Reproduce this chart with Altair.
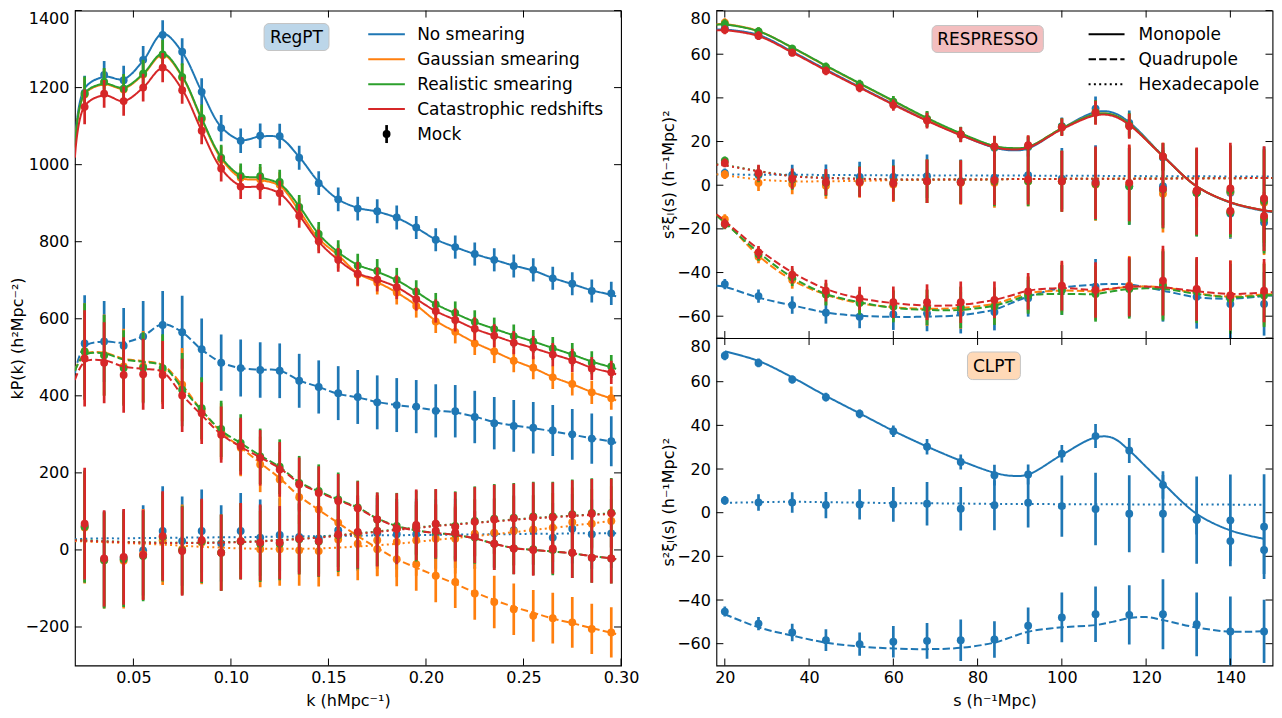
import altair as alt
import pandas as pd

FONT = "DejaVu Sans"
NAMES = ["No smearing", "Gaussian smearing", "Realistic smearing", "Catastrophic redshifts"]
COLORS = ["#1f77b4", "#ff7f0e", "#2ca02c", "#d62728"]
POLES = ["Monopole", "Quadrupole", "Hexadecapole"]
DASHES = [[1, 0], [7.4, 3.2], [2, 3.3]]

# ---------------- Left panel (RegPT, k P_l(k)) ----------------
K_MOCK = [0.025, 0.035, 0.045, 0.055, 0.065, 0.075, 0.085, 0.095, 0.105, 0.115, 0.125, 0.135, 0.145, 0.155,
          0.165, 0.175, 0.185, 0.195, 0.205, 0.215, 0.225, 0.235, 0.245, 0.255, 0.265, 0.275, 0.285, 0.295]
K_MODEL = [0.02] + K_MOCK + [0.2975]

P0_MOCK = {
    "No smearing": [1186, 1233, 1219, 1272, 1337, 1293, 1189, 1095, 1062, 1075, 1074, 1018, 952, 910,
                    886, 879, 863, 837, 805, 786, 768, 753, 737, 727, 705, 691, 672, 666],
    "Gaussian smearing": [1182, 1213, 1195, 1234, 1284, 1226, 1118, 1014, 966, 962, 948, 882, 808, 762,
                          715, 694, 668, 633, 593, 566, 536, 515, 491, 473, 448, 431, 409, 394],
    "Realistic smearing": [1184, 1215, 1197, 1236, 1286, 1228, 1121, 1018, 971, 970, 955, 890, 820, 773,
                           738, 724, 701, 670, 637, 615, 592, 573, 555, 541, 523, 507, 486, 476],
    "Catastrophic redshifts": [1150, 1184, 1165, 1200, 1252, 1193, 1088, 990, 943, 943, 926, 867, 801, 753,
                               717, 702, 682, 651, 620, 597, 574, 556, 538, 525, 507, 492, 471, 461],
}
P0_MODEL = {
    "No smearing": [1050, 1198, 1228, 1222, 1270, 1340, 1292, 1190, 1098, 1064, 1073, 1070, 1020, 955, 910,
                    888, 878, 862, 836, 806, 786, 768, 753, 738, 725, 706, 690, 674, 662, 658],
    "Gaussian smearing": [1043, 1183, 1208, 1198, 1234, 1285, 1228, 1117, 1016, 966, 960, 945, 880, 808, 765,
                          718, 695, 668, 635, 595, 566, 538, 515, 492, 472, 449, 430, 410, 393, 388],
    "Realistic smearing": [1045, 1185, 1210, 1200, 1236, 1288, 1230, 1120, 1020, 972, 966, 950, 892, 820, 773,
                           740, 722, 700, 670, 638, 614, 592, 574, 557, 541, 524, 507, 489, 474, 470],
    "Catastrophic redshifts": [1018, 1152, 1180, 1165, 1200, 1250, 1195, 1088, 990, 945, 942, 925, 868, 800, 753,
                               718, 702, 682, 651, 620, 597, 574, 556, 539, 524, 508, 492, 473, 460, 456],
}
P2_MOCK = {
    "No smearing": [536, 541, 530, 554, 584, 565, 521, 486, 472, 467, 465, 439, 423, 407,
                    397, 383, 376, 372, 361, 360, 345, 329, 322, 317, 310, 300, 289, 282],
    "Gaussian smearing": [515, 506, 476, 476, 467, 429, 364, 308, 265, 222, 183, 137, 105, 71,
                          41, 2, -24, -37, -67, -83, -113, -135, -154, -171, -177, -188, -205, -214],
    "Realistic smearing": [515, 505, 472, 473, 472, 416, 368, 314, 278, 243, 216, 174, 153, 131,
                           110, 79, 62, 55, 47, 42, 32, 16, 4, 2, 0, -7, -20, -22],
    "Catastrophic redshifts": [497, 486, 454, 456, 454, 401, 355, 299, 269, 239, 209, 170, 148, 127,
                               108, 79, 55, 58, 50, 45, 34, 16, 4, 0, 4, -7, -20, -22],
}
P2_MODEL = {
    "No smearing": [459, 528, 541, 538, 555, 586, 565, 520, 487, 472, 468, 466, 440, 423, 405,
                    396, 384, 376, 370, 362, 357, 346, 332, 323, 316, 308, 299, 290, 281, 278],
    "Gaussian smearing": [465, 508, 512, 496, 490, 480, 428, 362, 306, 266, 226, 186, 140, 104, 70,
                          36, 5, -24, -46, -67, -88, -110, -130, -148, -163, -178, -190, -203, -215, -218],
    "Realistic smearing": [465, 506, 510, 494, 488, 478, 420, 362, 310, 277, 245, 215, 176, 152, 131,
                           110, 82, 62, 51, 44, 39, 30, 16, 5, 0, -4, -9, -16, -22, -24],
    "Catastrophic redshifts": [441, 488, 492, 476, 470, 462, 402, 350, 300, 268, 240, 212, 174, 150, 129,
                               108, 81, 61, 50, 44, 39, 30, 16, 5, 0, -4, -9, -16, -22, -24],
}
P4_MOCK = {
    "No smearing": [62, -24, -20, -1, 49, 23, 49, 17, 49, 32, 39, 34, 30, 51,
                    41, 43, 41, 41, 41, 43, 41, 43, 51, 51, 32, 55, 41, 43],
    "Gaussian smearing": [58, -27, -28, -11, 25, 2, 19, -7, 23, 2, 2, -1, -3, 27,
                          16, 25, 21, 25, 29, 29, 42, 45, 49, 53, 58, 72, 68, 75],
    "Realistic smearing": [60, -27, -24, -16, 34, -1, 22, -7, 22, 16, 16, 28, 22, 38,
                           45, 50, 56, 62, 67, 62, 75, 81, 84, 87, 87, 93, 96, 97],
    "Catastrophic redshifts": [68, -22, -18, -13, 36, -3, 25, -7, 23, 19, 19, 29, 23, 40,
                               47, 49, 55, 65, 68, 60, 73, 79, 82, 85, 85, 91, 94, 95],
}
P4_MODEL = {
    "No smearing": [28, 29, 30, 30, 31, 31, 32, 32, 33, 33, 34, 34, 35, 36, 37,
                    37, 38, 38, 39, 39, 40, 40, 41, 41, 42, 42, 43, 43, 43, 43],
    "Gaussian smearing": [23, 22, 20, 18, 16, 14, 11, 8, 6, 4, 3, 3, 3, 4, 6,
                          9, 12, 16, 21, 26, 31, 36, 41, 46, 52, 57, 63, 69, 75, 76],
    "Realistic smearing": [26, 25, 23, 21, 20, 19, 19, 19, 20, 21, 23, 26, 29, 33, 38,
                           43, 48, 53, 58, 63, 67, 71, 75, 79, 83, 86, 89, 92, 95, 95],
    "Catastrophic redshifts": [25, 24, 22, 20, 19, 18, 18, 18, 19, 20, 22, 25, 28, 32, 37,
                               42, 47, 52, 57, 62, 66, 70, 74, 78, 82, 85, 88, 91, 93, 94],
}
ERR_P0 = [45, 36, 38, 36, 38, 35, 35, 34, 32, 32, 32, 31, 31, 31, 31, 31, 31, 30, 30, 30, 30, 30, 30, 30, 30, 30, 30, 30]
ERR_P2 = [125, 105, 98, 92, 88, 95, 80, 73, 74, 72, 71, 70, 69, 70, 70, 70, 70, 69, 69, 68, 68, 68, 67, 67, 66, 66, 65, 65]
ERR_P4 = [145, 125, 124, 117, 116, 116, 108, 99, 99, 99, 95, 92, 92, 95, 95, 92, 92, 92, 90, 90, 90, 90, 90, 90, 90, 90, 90, 90]

K_TICKS = [0.05, 0.10, 0.15, 0.20, 0.25, 0.30]
P_TICKS = [-200, 0, 200, 400, 600, 800, 1000, 1200, 1400]

# ---------------- Right panels (s^2 xi_l(s)) ----------------
S_MOCK = [20, 28, 36, 44, 52, 60, 68, 76, 84, 92, 100, 108, 116, 124, 132, 140, 148]
S_RESP = [18, 20, 28, 36, 44, 52, 60, 68, 76, 84, 88, 92, 100, 108, 112, 116, 124, 132, 140, 148, 150]
S_CLPT = [20, 28, 36, 44, 52, 60, 68, 76, 84, 88, 92, 100, 108, 112, 116, 120, 124, 132, 140, 148]

X0_MOCK = {
    "No smearing": [71.9, 68.6, 61.0, 52.9, 45.3, 37.3, 30.2, 23.2, 17.2, 17.5, 27.0, 35.1, 28.5, 12.7, -3.0, -13.0, -17.1],
    "Gaussian smearing": [74.4, 70.2, 62.2, 54.0, 46.0, 38.0, 30.2, 23.3, 17.6, 18.0, 26.6, 33.4, 27.2, 13.1, -3.0, -12.0, -15.0],
    "Realistic smearing": [73.9, 70.4, 62.5, 54.2, 46.3, 38.3, 30.4, 23.4, 17.5, 17.8, 26.8, 33.5, 27.5, 13.0, -3.5, -12.5, -15.5],
    "Catastrophic redshifts": [71.2, 68.5, 60.7, 52.4, 44.6, 36.7, 29.6, 23.1, 17.8, 18.3, 26.5, 33.2, 27.0, 13.2, -2.5, -11.8, -14.1],
}
X2_MOCK = {
    "No smearing": [-45.3, -50.8, -54.9, -58.4, -60.2, -59.1, -58.7, -58.4, -58.1, -51.8, -48.0, -46.5, -46.8, -46.5, -51.1, -54.4, -54.4],
    "Gaussian smearing": [-15.6, -32.8, -43.4, -49.8, -53.6, -55.1, -56.2, -56.2, -55.1, -50.0, -46.8, -49.0, -46.0, -45.2, -48.0, -50.5, -49.8],
    "Realistic smearing": [-17.9, -31.6, -42.2, -50.1, -54.0, -55.6, -55.9, -55.9, -55.6, -50.5, -48.0, -49.8, -47.5, -46.0, -48.6, -52.0, -50.5],
    "Catastrophic redshifts": [-17.6, -30.8, -41.0, -48.3, -51.8, -53.6, -53.6, -53.6, -52.5, -48.6, -46.0, -48.0, -46.5, -43.7, -47.5, -50.5, -48.3],
}
X4_MOCK = {
    "No smearing": [5.6, 4.7, 4.7, 3.5, 3.8, 3.8, 4.1, 1.8, 3.4, 4.6, 3.0, 1.7, -0.5, -0.5, -3.4, -3.5, -6.4],
    "Gaussian smearing": [4.9, 1.1, 0.6, -0.2, 1.1, 0.3, 1.8, 1.1, 1.1, 1.8, 1.8, 0.3, 0.6, -3.9, -3.0, -3.0, -8.0],
    "Realistic smearing": [11.2, 5.2, 2.6, 1.1, 1.8, 1.1, 1.8, 1.5, 1.8, 1.8, 1.8, 0.6, -0.5, -2.0, -3.5, -2.7, -7.3],
    "Catastrophic redshifts": [10.2, 5.6, 3.0, 1.4, 1.5, 0.9, 1.8, 1.4, 2.3, 2.6, 1.8, 1.1, 1.1, -1.7, -2.7, -1.5, -6.1],
}
ERR_X0 = [2.1, 2.0, 1.8, 2.0, 2.0, 2.6, 3.6, 3.4, 4.8, 4.6, 4.0, 5.5, 5.7, 6.3, 7.0, 9.0, 11.0]
ERR_X2 = [2.3, 3.0, 4.0, 5.0, 5.3, 7.2, 8.2, 9.5, 8.4, 8.4, 11.4, 12.7, 13.6, 16.0, 14.6, 16.0, 14.5]
ERR_X4 = [2.0, 3.8, 4.7, 6.0, 6.9, 8.0, 10.0, 10.0, 11.4, 11.4, 14.0, 16.6, 17.6, 17.8, 20.0, 21.0, 24.0]

X0_RESP = {
    "No smearing": [71.3, 71.3, 68.8, 61.2, 53.0, 45.0, 37.2, 29.8, 23.0, 17.2, 16.0, 16.8, 26.0, 33.5, 33.3, 28.8, 13.5, -0.5, -8.0, -11.8, -12.3],
    "Gaussian smearing": [73.7, 73.8, 70.6, 63.0, 54.6, 46.5, 38.5, 30.5, 23.5, 17.8, 16.8, 17.5, 26.0, 32.5, 32.3, 28.0, 13.3, -0.5, -7.8, -11.5, -12.0],
    "Realistic smearing": [73.5, 73.6, 70.5, 63.1, 54.8, 46.7, 38.7, 30.8, 23.8, 18.0, 17.0, 17.6, 26.0, 32.5, 32.3, 28.0, 13.3, -0.5, -7.8, -11.5, -12.0],
    "Catastrophic redshifts": [70.9, 71.0, 68.3, 60.8, 52.6, 44.7, 36.9, 29.5, 22.9, 17.4, 16.4, 17.2, 25.6, 32.0, 31.8, 27.6, 13.3, -0.5, -7.8, -11.5, -12.0],
}
X2_RESP = {
    "No smearing": [-46.0, -46.5, -51.5, -55.0, -58.3, -59.8, -60.3, -60.2, -59.5, -57.0, -54.0, -51.0, -47.0, -45.5, -45.2, -45.5, -48.3, -51.3, -52.0, -50.8, -50.5],
    "Gaussian smearing": [-13.5, -16.5, -32.3, -43.4, -50.1, -54.0, -55.9, -56.6, -56.2, -54.3, -52.0, -49.5, -48.3, -48.5, -47.5, -46.5, -46.8, -49.5, -51.0, -50.0, -50.0],
    "Realistic smearing": [-13.8, -17.2, -30.8, -42.2, -49.8, -53.6, -56.2, -57.1, -57.1, -55.1, -53.0, -50.5, -49.8, -49.8, -48.6, -47.5, -47.5, -49.8, -51.3, -50.5, -50.3],
    "Catastrophic redshifts": [-13.3, -16.4, -29.3, -39.9, -47.5, -51.8, -54.0, -55.1, -54.8, -52.5, -50.5, -48.3, -47.1, -48.0, -47.3, -46.5, -46.8, -48.6, -49.8, -49.2, -49.0],
}
X4_RESP = {
    "No smearing": [4.9, 4.9, 4.8, 4.8, 4.7, 4.6, 4.6, 4.5, 4.5, 4.4, 4.4, 4.4, 4.3, 4.3, 4.2, 4.2, 4.1, 4.1, 4.0, 4.0, 4.0],
    "Gaussian smearing": [5.0, 4.6, 2.6, 1.8, 1.8, 2.0, 2.3, 2.5, 2.6, 2.7, 2.8, 2.8, 2.9, 3.0, 3.0, 3.1, 3.1, 3.2, 3.2, 3.3, 3.3],
    "Realistic smearing": [9.6, 9.2, 6.5, 4.2, 3.4, 3.0, 2.7, 2.6, 2.6, 2.7, 2.8, 2.8, 2.9, 3.0, 3.0, 3.0, 3.1, 3.2, 3.2, 3.3, 3.3],
    "Catastrophic redshifts": [9.4, 9.0, 6.4, 4.1, 3.3, 2.9, 2.6, 2.6, 2.6, 2.7, 2.8, 2.8, 2.9, 3.0, 3.0, 3.0, 3.0, 3.1, 3.2, 3.3, 3.3],
}
X0_CLPT = [73.9, 69.5, 62.0, 53.5, 45.5, 37.5, 30.3, 23.8, 18.3, 16.9, 17.5, 26.5, 34.5, 34.3, 28.5, 21.0, 13.5, -0.5, -8.1, -12.0]
X2_CLPT = [-46.5, -52.5, -56.3, -59.5, -61.3, -62.2, -62.5, -61.9, -59.5, -57.0, -54.5, -52.5, -51.5, -50.0, -48.3, -47.8, -49.2, -52.6, -54.5, -54.3]
X4_CLPT = [4.5, 4.8, 5.0, 4.8, 4.6, 4.4, 4.3, 4.2, 4.0, 4.0, 4.0, 3.9, 3.9, 3.9, 3.8, 3.8, 3.8, 3.8, 3.7, 3.6]

S_TICKS = [20, 40, 60, 80, 100, 120, 140]
XI_TICKS = [-60, -40, -20, 0, 20, 40, 60, 80]

# ---------------- layout (pixels) ----------------
LW, LH = 547, 656
RW, RH = 557, 328
TICK = 7
TXT = 17


def model_frame(xs, tables, name):
    parts = []
    for pole, tab in zip(POLES, tables):
        parts.append(pd.DataFrame({"x": xs, "v": tab[name], "pole": pole}))
    return pd.concat(parts, ignore_index=True)


def mock_frame(xs, tables, errs, name):
    parts = []
    for pole, tab, err in zip(POLES, tables, errs):
        d = pd.DataFrame({"x": xs, "v": tab[name], "e": err, "pole": pole})
        d["lo"] = d["v"] - d["e"]
        d["hi"] = d["v"] + d["e"]
        parts.append(d)
    return pd.concat(parts, ignore_index=True)


def label_box(text, fill, x0, x1, y0, y1):
    d = pd.DataFrame({"t": [text]})
    rect = alt.Chart(d).mark_rect(fill=fill, stroke="#c4c4c4", strokeWidth=1, cornerRadius=5).encode(
        x=alt.value(x0), x2=alt.value(x1), y=alt.value(y0), y2=alt.value(y1))
    txt = alt.Chart(d).mark_text(font=FONT, fontSize=TXT, color="black", align="center", baseline="middle").encode(
        x=alt.value((x0 + x1) / 2), y=alt.value((y0 + y1) / 2 + 1), text="t:N")
    return [rect, txt]


def panel(series, xs_model, model_tabs, xs_mock, mock_tabs, errs, xdom, ydom, xticks, yticks,
          W, H, xaxis, yaxis, extra):
    xsc = alt.Scale(domain=xdom, nice=False, zero=False)
    ysc = alt.Scale(domain=ydom, nice=False, zero=False)
    dash = alt.StrokeDash("pole:N", scale=alt.Scale(domain=POLES, range=DASHES), legend=None)

    def X(f):
        return alt.X(f, type="quantitative", scale=xsc, axis=xaxis)

    def Y(f):
        return alt.Y(f, type="quantitative", scale=ysc, axis=yaxis)

    layers = []
    for name, col in series:
        mdf = model_frame(xs_model, model_tabs, name)
        ddf = mock_frame(xs_mock, mock_tabs, errs, name)
        layers.append(alt.Chart(mdf).mark_line(color=col, strokeWidth=2, interpolate="catmull-rom", clip=True).encode(
            x=X("x"), y=Y("v"), strokeDash=dash, detail="pole:N"))
        layers.append(alt.Chart(ddf).mark_rule(color=col, strokeWidth=2.7, clip=True).encode(
            x=X("x"), y=Y("lo"), y2="hi:Q"))
        layers.append(alt.Chart(ddf).mark_circle(color=col, size=62, opacity=1, clip=True).encode(
            x=X("x"), y=Y("v")))
    # inward tick marks on all four sides (tick values through the panel scales)
    xd = pd.DataFrame({"x": xticks})
    yd = pd.DataFrame({"v": yticks})
    base = dict(color="black", strokeWidth=1)
    layers += [
        alt.Chart(yd).mark_rule(**base).encode(y=Y("v"), x=alt.value(0), x2=alt.value(TICK)),
        alt.Chart(yd).mark_rule(**base).encode(y=Y("v"), x=alt.value(W - TICK), x2=alt.value(W)),
        alt.Chart(xd).mark_rule(**base).encode(x=X("x"), y=alt.value(H - TICK), y2=alt.value(H)),
        alt.Chart(xd).mark_rule(**base).encode(x=X("x"), y=alt.value(0), y2=alt.value(TICK)),
    ]
    layers += extra
    return alt.layer(*layers).properties(width=W, height=H)


def yaxis(title, values):
    return alt.Axis(values=values, title=title, format="d", tickSize=0, domain=False, grid=False,
                    labelPadding=6, titlePadding=0, labelFlush=True)


# ---------- left legend ----------
left_extra = label_box("RegPT", "#bcd6e9", 189.5, 254.5, 13, 40)
for i, (name, col) in enumerate(zip(NAMES, COLORS)):
    d = pd.DataFrame({"t": [name]})
    yy = 23.7 + 25 * i
    left_extra.append(alt.Chart(d).mark_rule(color=col, strokeWidth=2).encode(
        x=alt.value(293.8), x2=alt.value(330.5), y=alt.value(yy)))
    left_extra.append(alt.Chart(d).mark_text(font=FONT, fontSize=TXT, align="left", baseline="middle", color="black").encode(
        x=alt.value(342.8), y=alt.value(yy + 1), text="t:N"))
mock_d = pd.DataFrame({"t": ["Mock"]})
ym = 23.7 + 25 * 4
left_extra.append(alt.Chart(mock_d).mark_rule(color="black", strokeWidth=2.7).encode(
    x=alt.value(312.2), y=alt.value(ym - 9), y2=alt.value(ym + 9)))
left_extra.append(alt.Chart(mock_d).mark_circle(color="black", size=62, opacity=1).encode(
    x=alt.value(312.2), y=alt.value(ym)))
left_extra.append(alt.Chart(mock_d).mark_text(font=FONT, fontSize=TXT, align="left", baseline="middle", color="black").encode(
    x=alt.value(342.8), y=alt.value(ym + 1), text="t:N"))

left = panel(list(zip(NAMES, COLORS)), K_MODEL, [P0_MODEL, P2_MODEL, P4_MODEL], K_MOCK,
             [P0_MOCK, P2_MOCK, P4_MOCK], [ERR_P0, ERR_P2, ERR_P4], [0.02, 0.30], [-300, 1400],
             K_TICKS, P_TICKS, LW, LH,
             alt.Axis(values=K_TICKS, title="k (hMpc⁻¹)", format=".2f", tickSize=0, domain=False, grid=False,
                      labelPadding=4, titlePadding=7, labelFlush=False),
             yaxis("kP(k) (h²Mpc⁻²)", P_TICKS), left_extra)

# ---------- right top (RESPRESSO) ----------
top_extra = label_box("RESPRESSO", "#f3bebf", 216, 327.5, 15, 42)
for i, (pole, dsh) in enumerate(zip(POLES, DASHES)):
    d = pd.DataFrame({"t": [pole]})
    yy = 23.7 + 25 * i
    top_extra.append(alt.Chart(d).mark_rule(color="black", strokeWidth=2, strokeDash=dsh).encode(
        x=alt.value(372.8), x2=alt.value(408.8), y=alt.value(yy)))
    top_extra.append(alt.Chart(d).mark_text(font=FONT, fontSize=TXT, align="left", baseline="middle", color="black").encode(
        x=alt.value(422.8), y=alt.value(yy + 1), text="t:N"))

XI_TITLE = "s²ξₗ(s) (h⁻¹Mpc)²"
top = panel(list(zip(NAMES, COLORS)), S_RESP, [X0_RESP, X2_RESP, X4_RESP], S_MOCK,
            [X0_MOCK, X2_MOCK, X4_MOCK], [ERR_X0, ERR_X2, ERR_X4], [18, 150], [-70, 80],
            S_TICKS, XI_TICKS, RW, RH, None, yaxis(XI_TITLE, XI_TICKS), top_extra)

# ---------- right bottom (CLPT) ----------
clpt_models = [{NAMES[0]: X0_CLPT}, {NAMES[0]: X2_CLPT}, {NAMES[0]: X4_CLPT}]
bottom_extra = label_box("CLPT", "#ffd9b7", 251.5, 304.5, 14, 41.6)
bottom = panel([(NAMES[0], COLORS[0])], S_CLPT, clpt_models, S_MOCK,
               [X0_MOCK, X2_MOCK, X4_MOCK], [ERR_X0, ERR_X2, ERR_X4], [18, 150], [-70, 80],
               S_TICKS, XI_TICKS, RW, RH,
               alt.Axis(values=S_TICKS, title="s (h⁻¹Mpc)", format="d", tickSize=0, domain=False, grid=False,
                        labelPadding=4, titlePadding=7, labelFlush=False),
               yaxis(XI_TITLE, XI_TICKS), bottom_extra)

right = alt.vconcat(top, bottom, spacing=0, bounds="flush").resolve_scale(x="independent", y="independent")

chart = alt.hconcat(left, right, spacing=95.5, bounds="flush").resolve_scale(
    x="independent", y="independent").properties(
    padding={"left": 0, "top": 0, "right": 0, "bottom": 0}
).configure(font=FONT).configure_view(stroke="black", strokeWidth=1.1).configure_axis(
    labelFont=FONT, titleFont=FONT, labelFontSize=16, titleFontSize=16, titleFontWeight="normal",
    labelColor="black", titleColor="black")

chart.save("out.html", embed_options={"renderer": "svg", "actions": False})
